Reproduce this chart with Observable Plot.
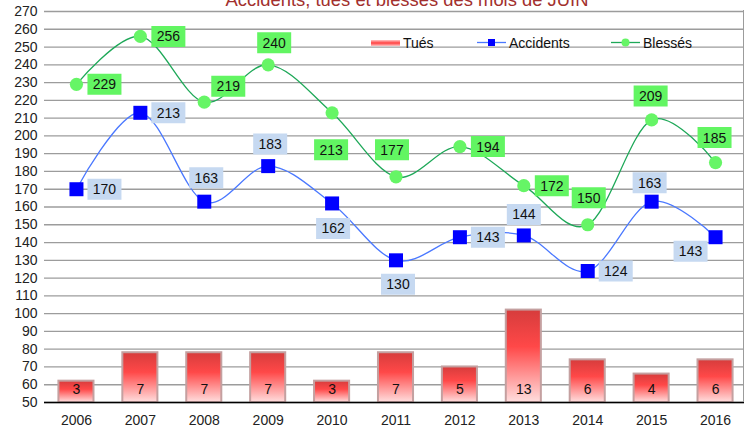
<!DOCTYPE html>
<html>
<head>
<meta charset="utf-8">
<script src="https://cdn.jsdelivr.net/npm/d3@7"></script>
<script src="https://cdn.jsdelivr.net/npm/@observablehq/plot@0.6"></script>
<style>
  body { margin: 0; background: #fff; font-family: "Liberation Sans", Arial, sans-serif; }
  #wrap { position: relative; width: 747px; height: 432px; overflow: hidden; background: #fff; }
  #wrap svg.plot { position: absolute; left: 0; top: 0; }
  .over { position: absolute; }
  .leg { position: absolute; top: 34px; height: 17px; display: flex; align-items: center; font-size: 14px; color: #111; white-space: nowrap; }
</style>
</head>
<body>
<div id="wrap"></div>
<script>
// ---- data ----
const years = ["2006","2007","2008","2009","2010","2011","2012","2013","2014","2015","2016"];
const tues = [3, 7, 7, 7, 3, 7, 5, 13, 6, 4, 6];
const accidents = [170, 213, 163, 183, 162, 130, 143, 144, 124, 163, 143];
const blesses = [229, 256, 219, 240, 213, 177, 194, 172, 150, 209, 185];
const yTicks = [50, 60, 70, 80, 90, 100, 110, 120, 130, 140, 150, 160, 170, 180, 190, 200, 210, 220, 230, 240, 250, 260, 270];
const seriesNames = ["Tués", "Accidents", "Blessés"];
const title = "Accidents, tués et blessés des mois de JUIN";

// ---- layout / style ----
const yMin = 50;          // base of the Tués bars (secondary axis zero)
const tuesFactor = 4;     // Tués secondary axis: 1 unit = 4 units of main axis
const accLabelOffsets = [[28,0],[28,0],[2,-24],[2,-22],[1,25],[2,24],[28,0],[0,-21],[28,0],[-2,-19],[-25,14]];
const blesLabelOffsets = [[28,0],[28,0],[24,-16],[6,-22],[-1,37],[-4,-27],[28,0],[28,0],[1,-27],[-1,-24],[-1,-25]];
const colAccLine = "#4a78ff", colAccPt = "#0000ff", colAccBox = "#c6d9f1";
const colBlesLine = "#1ea858", colBlesPt = "#66f566", colBlesBox = "#62f562";

const data = years.map((year, i) => ({year, tues: tues[i], acc: accidents[i], bles: blesses[i]}));

const boxSymbol = {draw(ctx) { ctx.rect(-17, -10.5, 34, 21); }};

function defs() {
  const d = d3.create("svg:defs");
  const g = d.append("linearGradient").attr("id", "barGrad").attr("x1", 0).attr("y1", 0).attr("x2", 0).attr("y2", 1);
  g.append("stop").attr("offset", "0%").attr("stop-color", "#d63c3c");
  g.append("stop").attr("offset", "40%").attr("stop-color", "#ff4848");
  g.append("stop").attr("offset", "100%").attr("stop-color", "#ffdede");
  return d.node();
}

function labelMarks(key, offsets, boxFill) {
  return data.flatMap((d, i) => [
    Plot.dot([d], {x: "year", y: key, symbol: boxSymbol, r: 10, fill: boxFill, stroke: "none", dx: offsets[i][0], dy: offsets[i][1]}),
    Plot.text([d], {x: "year", y: key, text: r => String(r[key]), dx: offsets[i][0], dy: offsets[i][1] + 0.5, fill: "#111", fontSize: 14})
  ]);
}

const chart = Plot.plot({
  width: 747,
  height: 432,
  marginLeft: 44,
  marginRight: 0,
  marginTop: 11,
  marginBottom: 30,
  style: {fontFamily: "'Liberation Sans', Arial, sans-serif", fontSize: "14px", color: "#222", background: "transparent"},
  x: {domain: years, paddingInner: 0.42, paddingOuter: 0.21, round: false, tickSize: 0, tickPadding: 13, label: null},
  y: {domain: [50, 270], ticks: yTicks, tickSize: 0, tickPadding: 7, label: null},
  marks: [
    defs,
    Plot.ruleY(yTicks, {stroke: "#9c9c9c", strokeWidth: 1.3, insetRight: 3}),
    Plot.barY(data, {x: "year", y1: () => yMin, y2: d => yMin + tuesFactor * d.tues, fill: "url(#barGrad)", stroke: "#c4a0a0", strokeWidth: 2, insetLeft: 1, insetRight: 1}),
    Plot.text(data, {x: "year", y: () => yMin, text: d => String(d.tues), dy: -13, fill: "#111", fontSize: 14}),
    Plot.ruleY([yMin], {stroke: "#000", strokeWidth: 1.3, insetRight: 3}),
    Plot.line(data, {x: "year", y: "bles", curve: "cardinal", stroke: colBlesLine, strokeWidth: 1.3}),
    Plot.line(data, {x: "year", y: "acc", curve: "cardinal", stroke: colAccLine, strokeWidth: 1.3}),
    Plot.dot(data, {x: "year", y: "bles", symbol: "circle", r: 6.6, fill: colBlesPt, stroke: "none"}),
    Plot.dot(data, {x: "year", y: "acc", symbol: "square", r: 7.9, fill: colAccPt, stroke: "none"}),
    ...labelMarks("bles", blesLabelOffsets, colBlesBox),
    ...labelMarks("acc", accLabelOffsets, colAccBox)
  ]
});

const wrap = document.getElementById("wrap");
wrap.appendChild(chart);

// right border of plot area
const border = document.createElement("div");
border.className = "over";
border.style.cssText = "left:743px;top:10px;width:1.3px;height:392px;background:#9c9c9c;";
wrap.appendChild(border);

// title (top is cut off, as in the reference)
const tsvg = d3.create("svg").attr("class", "over").attr("width", 747).attr("height", 14).style("left", "0px").style("top", "0px").style("overflow", "hidden");
tsvg.append("text").attr("x", 407).attr("y", 5.5).attr("text-anchor", "middle")
  .attr("fill", "#a2302e").attr("font-size", 18.4).attr("font-family", "'Liberation Sans', Arial, sans-serif").text(title);
wrap.appendChild(tsvg.node());

// legend
function legItem(left, swatchHTML, label) {
  const el = document.createElement("div");
  el.className = "leg";
  el.style.left = left + "px";
  el.innerHTML = swatchHTML + `<span style="margin-left:3px">${label}</span>`;
  wrap.appendChild(el);
}
legItem(371, `<div style="width:29px;height:6px;background:linear-gradient(to bottom,#ffc4c4,#ff4040 50%,#ffc4c4)"></div>`, seriesNames[0]);
legItem(477, `<svg width="29" height="9"><line x1="0" x2="29" y1="4.5" y2="4.5" stroke="${colAccLine}" stroke-width="1.3"/><rect x="11" y="1" width="7" height="7" fill="${colAccPt}"/></svg>`, seriesNames[1]);
legItem(611, `<svg width="29" height="9"><line x1="0" x2="29" y1="4.5" y2="4.5" stroke="${colBlesLine}" stroke-width="1.3"/><circle cx="14.5" cy="4.5" r="4" fill="${colBlesPt}"/></svg>`, seriesNames[2]);
</script>
</body>
</html>
